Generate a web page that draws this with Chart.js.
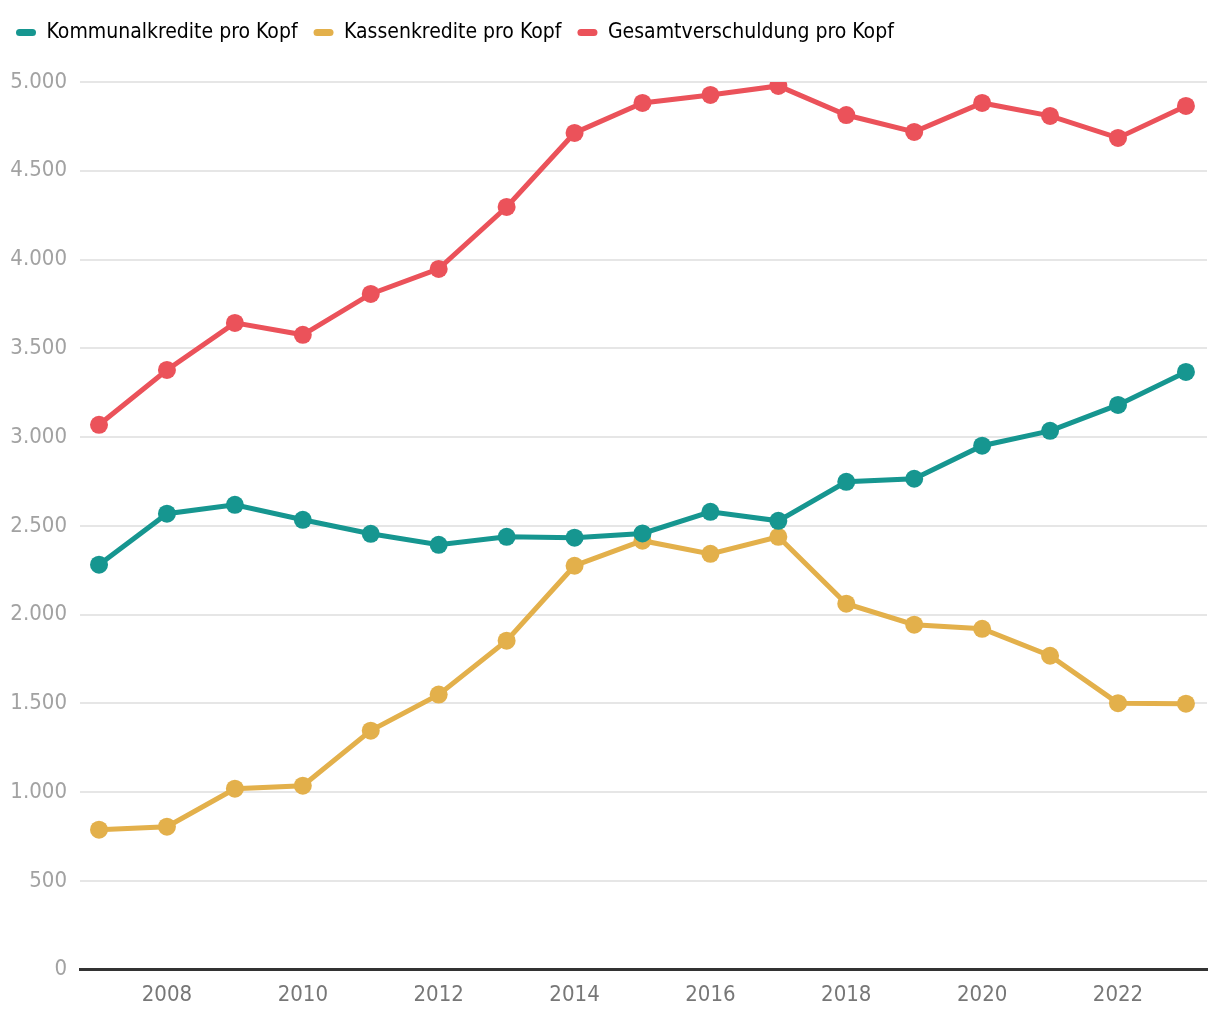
<!DOCTYPE HTML>
<html>
<head>
  <title>Verschuldung pro Kopf</title>
  <script src="https://cdn.jsdelivr.net/npm/chart.js"></script>
  <style>
    html, body { margin: 0; padding: 0; background: #fff; }
    #wrap { width: 1220px; height: 1020px; }
  </style>
</head>
<body>
  <div id="wrap"><canvas id="myChart"></canvas></div>

  <script type="text/javascript">
    var years = [2007, 2008, 2009, 2010, 2011, 2012, 2013, 2014, 2015, 2016, 2017, 2018, 2019, 2020, 2021, 2022, 2023];
    var kommunal = [2281, 2568, 2618, 2534, 2455, 2393, 2438, 2433, 2457, 2579, 2528, 2748, 2765, 2951, 3035, 3181, 3367];
    var kassen = [788, 805, 1019, 1036, 1346, 1549, 1853, 2275, 2416, 2342, 2438, 2061, 1943, 1920, 1768, 1501, 1498];
    var gesamt = [3069, 3378, 3643, 3576, 3806, 3947, 4296, 4713, 4882, 4927, 4978, 4814, 4719, 4882, 4809, 4685, 4865];
    var xTicks = [2008, 2010, 2012, 2014, 2016, 2018, 2020, 2022];
    var yTicks = [0, 500, 1000, 1500, 2000, 2500, 3000, 3500, 4000, 4500, 5000];

    var seriesNames = ['Kommunalkredite pro Kopf', 'Kassenkredite pro Kopf', 'Gesamtverschuldung pro Kopf'];
    var colors = { teal: '#169690', yellow: '#e3b04b', red: '#eb525a' };

    function pts(vals) {
      return years.map(function (y, i) { return { x: y, y: vals[i] }; });
    }
    function fmt(v) {
      return String(v).replace(/\B(?=(\d{3})+(?!\d))/g, '.');
    }
    function ds(label, vals, color) {
      return {
        label: label,
        data: pts(vals),
        borderColor: color,
        backgroundColor: color,
        borderWidth: 5,
        pointRadius: 9,
        pointBorderWidth: 0,
        pointHoverRadius: 9
      };
    }

    var font = "'DejaVu Sans Condensed', 'Liberation Sans Narrow', sans-serif";

    // push the plot area down below the legend
    var legendGap = {
      id: 'legendGap',
      afterInit: function (chart) {
        var orig = chart.legend.fit;
        chart.legend.fit = function () {
          orig.call(this);
          this.height += 29;
        };
      }
    };

    const ctx = document.getElementById('myChart');
    var myChart = new Chart(ctx, {
      type: 'line',
      data: {
        datasets: [
          ds(seriesNames[0], kommunal, colors.teal),
          ds(seriesNames[1], kassen, colors.yellow),
          ds(seriesNames[2], gesamt, colors.red)
        ]
      },
      plugins: [legendGap],
      options: {
        responsive: true,
        maintainAspectRatio: false,
        animation: false,
        layout: { padding: { left: 0, right: 13, top: 6, bottom: 0 } },
        plugins: {
          tooltip: { enabled: false },
          legend: {
            align: 'start',
            labels: {
              font: { family: font, size: 21 },
              color: '#111',
              boxWidth: 20,
              boxHeight: 7,
              useBorderRadius: true,
              borderRadius: 3.5,
              padding: 16,
              generateLabels: function (chart) {
                return chart.data.datasets.map(function (d, i) {
                  return {
                    text: d.label,
                    fillStyle: d.borderColor,
                    strokeStyle: d.borderColor,
                    lineWidth: 0,
                    borderRadius: 3.5,
                    datasetIndex: i
                  };
                });
              }
            }
          }
        },
        scales: {
          x: {
            type: 'linear',
            min: 2006.72,
            max: 2023.31,
            afterBuildTicks: function (axis) {
              axis.ticks = xTicks.map(function (v) { return { value: v }; });
            },
            grid: { display: false, drawTicks: false },
            border: { display: true, color: '#333', width: 3 },
            ticks: {
              padding: 12,
              color: '#777',
              font: { family: font, size: 22 },
              maxRotation: 0,
              callback: function (v) { return String(v); }
            }
          },
          y: {
            min: 0,
            max: 5000,
            afterBuildTicks: function (axis) {
              axis.ticks = yTicks.map(function (v) { return { value: v }; });
            },
            afterFit: function (scale) { scale.width = 80; },
            grid: { color: '#e6e6e6', lineWidth: 2, drawTicks: false },
            border: { display: false },
            ticks: {
              padding: 13,
              color: '#a2a2a2',
              font: { family: font, size: 22 },
              callback: function (v) { return fmt(v); }
            }
          }
        }
      }
    });
  </script>
</body>
</html>
